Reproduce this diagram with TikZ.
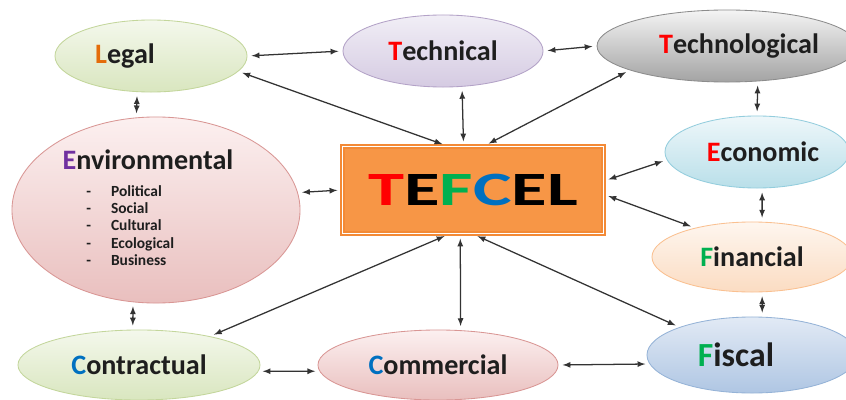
\documentclass[tikz,border=0pt]{standalone}
\usepackage{fontspec}
\setmainfont{Carlito}
\usetikzlibrary{shapes.geometric}
\definecolor{arrowgray}{HTML}{333333}
\definecolor{txtgray}{HTML}{1E1E1E}
\definecolor{redT}{HTML}{FF0000}
\definecolor{orangeL}{HTML}{E46C0A}
\definecolor{purpleE}{HTML}{7030A0}
\definecolor{greenF}{HTML}{00B050}
\definecolor{blueC}{HTML}{0070C0}
\definecolor{greenline}{HTML}{C3D69B}
\definecolor{greentop}{HTML}{F4F8EC}
\definecolor{greenbot}{HTML}{D9E6BF}
\definecolor{lilacline}{HTML}{B3A2C7}
\definecolor{lilactop}{HTML}{F1EEF6}
\definecolor{lilacbot}{HTML}{D5CBE2}
\definecolor{grayline}{HTML}{8C8C8C}
\definecolor{graytop}{HTML}{F4F4F4}
\definecolor{graybot}{HTML}{A3A3A3}
\definecolor{pinkline}{HTML}{D99694}
\definecolor{pinktop}{HTML}{FCF0F0}
\definecolor{pinkbot}{HTML}{E9BFBE}
\definecolor{cyanline}{HTML}{93CDDD}
\definecolor{cyantop}{HTML}{EEF7FA}
\definecolor{cyanbot}{HTML}{B9DFE9}
\definecolor{peachline}{HTML}{FAC090}
\definecolor{peachtop}{HTML}{FEF6EF}
\definecolor{peachbot}{HTML}{FBDCC2}
\definecolor{blueline}{HTML}{95B3D7}
\definecolor{bluetop}{HTML}{E2EAF5}
\definecolor{bluebot}{HTML}{AFC6E3}
\definecolor{tefcelfill}{HTML}{F79646}
\definecolor{tefcelline}{HTML}{F38A36}
\tikzset{
  bubble/.style={ellipse,inner sep=0pt,line width=0.6pt,text=txtgray,
    font=\fontsize{20}{24}\selectfont\bfseries},
  link/.style={<->,>=latex,line width=0.9pt,draw=arrowgray,
    shorten <=3pt,shorten >=3pt}
}
\begin{document}
\begin{tikzpicture}[x=0.025cm,y=-0.025cm]
\fill[white] (0,0) rectangle (846,400);
\useasboundingbox (0,0) rectangle (846,400);
\node[bubble,minimum width=4.8cm,minimum height=1.8cm,draw=greenline,
  top color=greentop,bottom color=greenbot] (legal) at (151,56)
  {\textcolor{orangeL}{L}egal\rule{1.3cm}{0pt}};
\node[bubble,minimum width=5cm,minimum height=1.8cm,draw=lilacline,
  top color=lilactop,bottom color=lilacbot] (technical) at (443,51)
  {\textcolor{redT}{T}echnical};
\node[bubble,minimum width=6.2cm,minimum height=1.8cm,draw=grayline,
  top color=graytop,bottom color=graybot] (technological) at (727,46)
  {\rule{0.6cm}{0pt}\textcolor{redT}{T}echnological};
\node[bubble,minimum width=7.2cm,minimum height=4.65cm,draw=pinkline,
  top color=pinktop,bottom color=pinkbot] (env) at (156,210) {};
\node[text=txtgray,font=\fontsize{20}{24}\selectfont\bfseries] (envtitle)
  at (148,160) {\textcolor{purpleE}{E}nvironmental};
\node[anchor=north west,inner sep=0pt,text=txtgray,
  font=\fontsize{11}{12.3}\selectfont\bfseries] (envlist) at (86,184)
  {\begin{tabular}{@{}l@{\hspace{0.5cm}}l@{}}
  - & Political\\
  - & Social\\
  - & Cultural\\
  - & Ecological\\
  - & Business
  \end{tabular}};
\node[bubble,minimum width=4.6cm,minimum height=1.8cm,draw=cyanline,
  top color=cyantop,bottom color=cyanbot] (economic) at (757,152)
  {\rule{0.3cm}{0pt}\textcolor{redT}{E}conomic};
\node[bubble,minimum width=5cm,minimum height=1.75cm,draw=peachline,
  top color=peachtop,bottom color=peachbot] (financial) at (752,257)
  {\textcolor{greenF}{F}inancial};
\node[bubble,minimum width=5.25cm,minimum height=1.9cm,draw=blueline,
  top color=bluetop,bottom color=bluebot,
  font=\fontsize{24}{28}\selectfont\bfseries] (fiscal) at (752,355)
  {\textcolor{greenF}{F}iscal\rule{0.8cm}{0pt}};
\node[bubble,minimum width=6.05cm,minimum height=1.75cm,draw=greenline,
  top color=greentop,bottom color=greenbot] (contractual) at (139,365)
  {\textcolor{blueC}{C}ontractual};
\node[bubble,minimum width=6cm,minimum height=1.75cm,draw=pinkline,
  top color=pinktop,bottom color=pinkbot] (commercial) at (438,365)
  {\textcolor{blueC}{C}ommercial};
\node[rectangle,minimum width=6.53cm,minimum height=2.18cm,inner sep=0pt,
  fill=tefcelfill,draw=tefcelline,line width=1.2pt,double=white,
  double distance=1pt] (tefcel) at (473,190)
  {\scalebox{1.52}[1]{\fontsize{34}{40}\selectfont\bfseries
  \textcolor{redT}{T}E\textcolor{greenF}{F}\textcolor{blueC}{C}EL}};
\draw[link] (legal.east) -- (technical.west);
\draw[link] (technical.east) -- (technological.west);
\draw[link] (legal.-10) -- (tefcel.121);
\draw[link] (technical.-62) -- (tefcel.102);
\draw[link] (technological.194) -- (tefcel.75);
\draw[link] (technological.-49) -- (economic.north);
\draw[link] (legal.-111) -- (env.102);
\draw[link] (env.7) -- (tefcel.west);
\draw[link] (economic.185) -- (tefcel.4);
\draw[link] (tefcel.-2) -- (financial.153);
\draw[link] (economic.-82) -- (financial.74);
\draw[link] (financial.-74) -- (fiscal.75);
\draw[link] (env.-104) -- (contractual.100);
\draw[link] (tefcel.-119) -- (contractual.22);
\draw[link] (tefcel.-106) -- (commercial.57);
\draw[link] (tefcel.-89) -- (fiscal.159);
\draw[link] (contractual.-3) -- (commercial.183);
\draw[link] (commercial.east) -- (fiscal.185);
\end{tikzpicture}
\end{document}
